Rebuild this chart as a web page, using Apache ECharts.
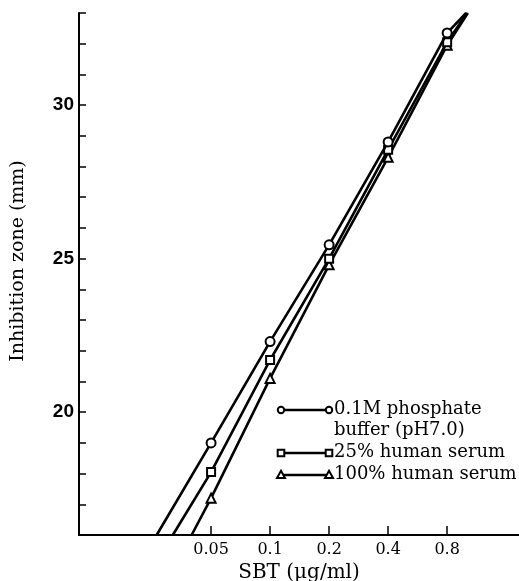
<!DOCTYPE html>
<html>
<head>
<meta charset="utf-8">
<script src="https://cdn.jsdelivr.net/npm/echarts@6/dist/echarts.min.js"></script>
<style>
  html, body { margin: 0; padding: 0; background: #fff; }
  #chart { width: 519px; height: 581px; }
</style>
</head>
<body>
<div id="chart"></div>
<script>
// SBT concentrations (µg/ml) at which inhibition zones were measured
const concentrations = [0.05, 0.1, 0.2, 0.4, 0.8];
// Inhibition zone diameters (mm) in each diluent
const bufferZones = [19.0, 22.3, 25.45, 28.8, 32.35];
const serum25Zones = [18.05, 21.7, 25.0, 28.55, 32.05];
const serum100Zones = [17.2, 21.1, 24.8, 28.3, 31.95];
// Extrapolated ends of each dose-response line: [conc, zone]
const bufferLineEnds = [[0.0264, 16], [1.0, 33]];
const serum25LineEnds = [[0.0319, 16], [1.01, 33]];
const serum100LineEnds = [[0.0398, 16], [1.02, 33]];
// Names and markers of the three media
const seriesNames = ['0.1M phosphate\nbuffer (pH7.0)', '25% human serum', '100% human serum'];
const seriesSymbols = ['circle', 'rect', 'triangle'];
const symbolSizes = [9, 8, 9];
// Axis ticks
const xTickValues = [0.05, 0.1, 0.2, 0.4, 0.8];
const yLabelValues = [20, 25, 30];

const SERIF = '"DejaVu Serif", "Liberation Serif", serif';
const NARROW = '"Liberation Sans Narrow", "Liberation Sans", sans-serif';

function lineData(zones, ends) {
  const pts = concentrations.map((c, i) => ({ value: [c, zones[i]] }));
  return [{ value: ends[0], symbol: 'none' }, ...pts, { value: ends[1], symbol: 'none' }];
}

const zoneSets = [bufferZones, serum25Zones, serum100Zones];
const endSets = [bufferLineEnds, serum25LineEnds, serum100LineEnds];

const series = zoneSets.map((zones, k) => ({
  name: seriesNames[k],
  type: 'line',
  data: lineData(zones, endSets[k]),
  symbol: seriesSymbols[k],
  symbolSize: symbolSizes[k],
  showAllSymbol: true,
  clip: true,
  lineStyle: { color: '#000', width: 2.6 },
  itemStyle: { color: '#fff', borderColor: '#000', borderWidth: 2 },
  z: 3 - k
}));

// Legend drawn as line-with-end-markers followed by its label
const legendX0 = 281, legendX1 = 329, textX = 334;
const legendRowY = [410, 453, 475];
const legendGraphics = [];
seriesNames.forEach((name, k) => {
  const y = legendRowY[k];
  legendGraphics.push({
    type: 'line',
    shape: { x1: legendX0, y1: y, x2: legendX1, y2: y },
    style: { stroke: '#000', lineWidth: 2.6 },
    z: 10
  });
  [legendX0, legendX1].forEach(x => {
    let shapeEl;
    const st = { fill: '#fff', stroke: '#000', lineWidth: 2 };
    if (seriesSymbols[k] === 'circle') {
      shapeEl = { type: 'circle', shape: { cx: x, cy: y, r: 3.2 }, style: st };
    } else if (seriesSymbols[k] === 'rect') {
      shapeEl = { type: 'rect', shape: { x: x - 3.3, y: y - 3.3, width: 6.6, height: 6.6 }, style: st };
    } else {
      shapeEl = { type: 'polygon', shape: { points: [[x, y - 4.2], [x + 4, y + 3], [x - 4, y + 3]] }, style: st };
    }
    shapeEl.z = 11;
    legendGraphics.push(shapeEl);
  });
  legendGraphics.push({
    type: 'text',
    x: textX,
    y: y - 11,
    style: {
      text: name,
      font: '18px ' + SERIF,
      fill: '#000',
      lineHeight: 21,
      textAlign: 'left',
      textVerticalAlign: 'top'
    },
    z: 11
  });
});

// Y axis title
legendGraphics.push({
  type: 'text',
  x: 18,
  y: 261,
  rotation: Math.PI / 2,
  style: {
    text: 'Inhibition zone (mm)',
    font: '19px ' + SERIF,
    fill: '#000',
    textAlign: 'center',
    textVerticalAlign: 'middle'
  }
});

const chart = echarts.init(document.getElementById('chart'), null, { renderer: 'canvas' });
chart.setOption({
  animation: false,
  backgroundColor: '#fff',
  grid: { left: 79, right: 0, top: 13, bottom: 46, containLabel: false, outerBoundsMode: 'none' },
  xAxis: {
    type: 'log',
    logBase: 2,
    min: 0.0106,
    max: 1.86,
    name: 'SBT (\u03bcg/ml)',
    nameLocation: 'middle',
    nameGap: 25,
    nameTextStyle: { fontFamily: SERIF, fontSize: 20, color: '#000' },
    axisLine: { show: true, lineStyle: { color: '#000', width: 2 } },
    axisTick: { show: true, inside: true, length: 9, customValues: xTickValues, lineStyle: { color: '#000', width: 1.5 } },
    axisLabel: {
      customValues: xTickValues,
      margin: 7,
      fontFamily: SERIF,
      fontSize: 16,
      color: '#000',
      formatter: v => String(+Number(v).toPrecision(2))
    },
    splitLine: { show: false },
    minorTick: { show: false }
  },
  yAxis: {
    type: 'value',
    min: 16,
    max: 33,
    interval: 1,
    axisLine: { show: true, lineStyle: { color: '#000', width: 2 } },
    axisTick: { show: true, inside: true, length: 7, interval: 0, lineStyle: { color: '#000', width: 1.5 } },
    axisLabel: {
      customValues: yLabelValues,
      margin: 5,
      fontFamily: NARROW,
      fontWeight: 'bold',
      fontSize: 19,
      color: '#000'
    },
    splitLine: { show: false }
  },
  series: series,
  graphic: legendGraphics
});
</script>
</body>
</html>
